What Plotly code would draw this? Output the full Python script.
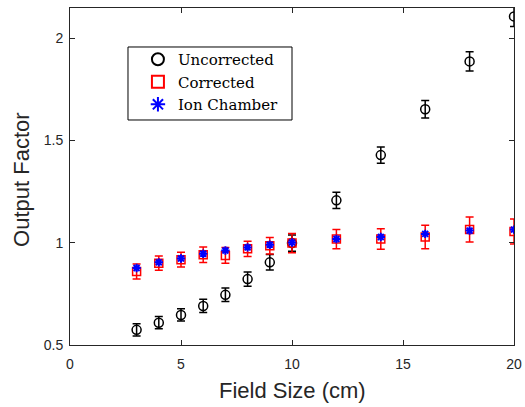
import plotly.graph_objects as go

field_size = [3, 4, 5, 6, 7, 8, 9, 10, 12, 14, 16, 18, 20]
uncorrected = [0.574, 0.609, 0.647, 0.691, 0.745, 0.822, 0.904, 0.998, 1.207, 1.428, 1.652, 1.886, 2.106]
uncorrected_err = [0.03, 0.03, 0.03, 0.032, 0.033, 0.035, 0.038, 0.04, 0.04, 0.04, 0.043, 0.047, 0.05]
corrected = [0.859, 0.900, 0.917, 0.941, 0.938, 0.970, 0.985, 0.998, 1.018, 1.018, 1.028, 1.064, 1.055]
corrected_err = [0.037, 0.035, 0.036, 0.038, 0.038, 0.037, 0.04, 0.047, 0.047, 0.05, 0.057, 0.061, 0.061]
ion_chamber = [0.876, 0.904, 0.923, 0.946, 0.962, 0.977, 0.99, 1.001, 1.018, 1.028, 1.043, 1.059, 1.064]

SANS = "Arial, Liberation Sans, sans-serif"
SERIF = "DejaVu Serif, serif"
AX = "#262626"

fig = go.Figure()
fig.add_trace(go.Scatter(
    x=field_size, y=uncorrected, mode="markers", name="Uncorrected",
    marker=dict(symbol="circle-open", size=9, color="black", line=dict(width=1.5, color="black")),
    error_y=dict(type="data", array=uncorrected_err, color="black", thickness=1.5, width=4),
))
fig.add_trace(go.Scatter(
    x=field_size, y=corrected, mode="markers", name="Corrected",
    marker=dict(symbol="square-open", size=8, color="red", line=dict(width=1.5, color="red")),
    error_y=dict(type="data", array=corrected_err, color="red", thickness=1.5, width=4),
))
fig.add_trace(go.Scatter(
    x=field_size, y=ion_chamber, mode="markers", name="Ion Chamber",
    marker=dict(symbol="asterisk-open", size=7, color="blue", line=dict(width=2, color="blue")),
))

axis_common = dict(
    showline=True, linecolor=AX, linewidth=1, mirror="ticks",
    ticks="inside", ticklen=5, tickcolor=AX, showgrid=False, zeroline=False,
    tickfont=dict(family=SANS, size=14, color=AX), automargin=False,
)
fig.update_xaxes(range=[0, 20], tickvals=[0, 5, 10, 15, 20], ticklabelstandoff=6, **axis_common)
fig.update_yaxes(range=[0.5, 2.147], tickvals=[0.5, 1, 1.5, 2], ticktext=["0.5", "1", "1.5", "2"],
                 ticklabelstandoff=3, **axis_common)

fig.add_annotation(text="Field Size (cm)", xref="paper", yref="paper", x=0.5, y=-0.134,
                   xanchor="center", yanchor="middle", showarrow=False,
                   font=dict(family=SANS, size=22, color=AX))
fig.add_annotation(text="Output Factor", xref="paper", yref="paper", x=-0.108, y=0.49,
                   xanchor="center", yanchor="middle", showarrow=False, textangle=-90,
                   font=dict(family=SANS, size=22, color=AX))

fig.add_shape(type="rect", xref="paper", yref="paper", x0=0.1306, x1=0.5, y0=0.6677, y1=0.8843,
              line=dict(color="black", width=1), fillcolor="rgba(0,0,0,0)", layer="above")

fig.update_layout(
    width=525, height=407,
    margin=dict(l=70, r=11, t=8, b=62),
    plot_bgcolor="white", paper_bgcolor="white",
    showlegend=True,
    legend=dict(x=0.153, y=0.896, xanchor="left", yanchor="top",
                borderwidth=0, bgcolor="rgba(0,0,0,0)",
                font=dict(family=SERIF, size=15, color="black"),
                itemsizing="constant", tracegroupgap=0),
)
# remove the browser's default 8px body margin so the 525x407 figure fills the window
fig.write_html("out.html", config={"displayModeBar": False},
               post_script="document.body.style.margin='0';document.body.style.overflow='hidden';")
